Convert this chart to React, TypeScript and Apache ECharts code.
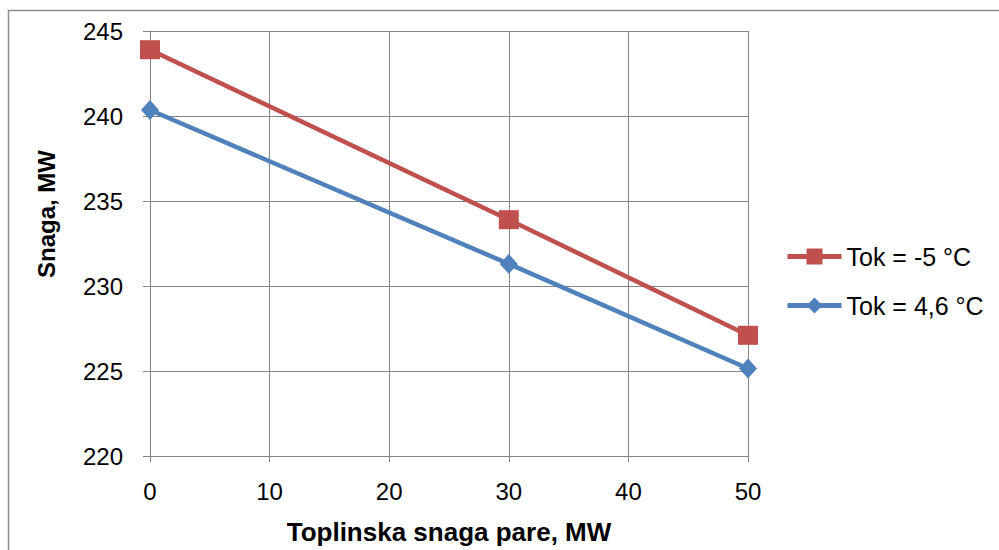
import React, { useEffect, useRef } from "react";
import * as echarts from "echarts";

const xValues = [0, 30, 50];
const seriesNames = ["Tok = -5 °C", "Tok = 4,6 °C"];
const redValues = [243.9, 233.9, 227.1];
const blueValues = [240.35, 231.3, 225.15];
const colors = ["#C0504D", "#4F81BD"];
const xTitle = "Toplinska snaga pare, MW";
const yTitle = "Snaga, MW";

const FONT = "'Liberation Sans', Arial, sans-serif";

export default function App() {
  const ref = useRef<HTMLDivElement>(null);
  useEffect(() => {
    if (!ref.current) return;
    const chart = echarts.init(ref.current, undefined, { renderer: "svg" });
    const toPairs = (vals: number[]) => xValues.map((x, i) => [x, vals[i]]);
    chart.setOption({
      animation: false,
      backgroundColor: "#ffffff",
      textStyle: { fontFamily: FONT },
      graphic: [
        {
          type: "rect",
          shape: { x: 8.5, y: 10.5, width: 1100, height: 600 },
          style: { fill: "none", stroke: "#8c8c8c", lineWidth: 1.5 },
          silent: true,
        },
        {
          type: "text",
          x: 46,
          y: 214,
          rotation: Math.PI / 2,
          style: {
            text: yTitle,
            font: `bold 24px ${FONT}`,
            fill: "#000",
            align: "center",
            verticalAlign: "middle",
          },
          silent: true,
        },
      ],
      grid: { left: 150, top: 31, right: 251, bottom: 94, containLabel: false },
      legend: {
        orient: "vertical",
        left: 780,
        top: 239,
        itemWidth: 54,
        itemHeight: 20,
        itemGap: 24,
        lineStyle: { width: 5 },
        textStyle: { fontSize: 25, fontFamily: FONT, color: "#000" },
        data: seriesNames,
      },
      xAxis: {
        type: "value",
        min: 0,
        max: 50,
        interval: 10,
        name: xTitle,
        nameLocation: "middle",
        nameGap: 63,
        nameTextStyle: { fontSize: 26, fontWeight: "bold", color: "#000", fontFamily: FONT },
        axisLine: { show: true, lineStyle: { color: "#868686", width: 1 } },
        axisTick: { show: true, length: 6, inside: false, lineStyle: { color: "#868686" } },
        axisLabel: { fontSize: 24, color: "#000", margin: 23, fontFamily: FONT },
        splitLine: { show: true, lineStyle: { color: "#868686", width: 1 } },
      },
      yAxis: {
        type: "value",
        min: 220,
        max: 245,
        interval: 5,
        axisLine: { show: true, lineStyle: { color: "#868686", width: 1 } },
        axisTick: { show: true, length: 7, lineStyle: { color: "#868686" } },
        axisLabel: { fontSize: 24, color: "#000", margin: 27, fontFamily: FONT },
        splitLine: { show: true, lineStyle: { color: "#868686", width: 1 } },
      },
      series: [
        {
          name: seriesNames[0],
          type: "line",
          data: toPairs(redValues),
          symbol: "rect",
          symbolSize: [20, 19],
          lineStyle: { width: 4.5, color: colors[0] },
          itemStyle: { color: colors[0] },
        },
        {
          name: seriesNames[1],
          type: "line",
          data: toPairs(blueValues),
          symbol: "diamond",
          symbolSize: [18, 20],
          lineStyle: { width: 4.5, color: colors[1] },
          itemStyle: { color: colors[1] },
        },
      ],
    });
    return () => chart.dispose();
  }, []);
  return (
    <div
      ref={ref}
      style={{ position: "fixed", left: 0, top: 0, width: 999, height: 550 }}
    />
  );
}
